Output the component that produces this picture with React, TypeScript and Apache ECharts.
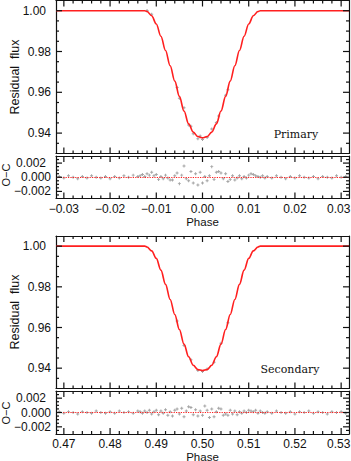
import React, { useEffect, useRef } from 'react';
import * as echarts from 'echarts';

// ---------- tick labels ----------
const PRI_X_TICKS = [-0.03, -0.02, -0.01, 0, 0.01, 0.02, 0.03];
const SEC_X_TICKS = [0.47, 0.48, 0.49, 0.5, 0.51, 0.52, 0.53];
const FLUX_TICKS = [0.94, 0.96, 0.98, 1.0];
const OC_TICKS = [-0.002, 0, 0.002];

// ---------- model light curves [phase, flux] ----------
const PRI_MODEL: [number, number][] = [
  [-0.0317, 1.0], [-0.013, 1.0], [-0.0125, 1.0], [-0.012, 0.9996], [-0.011, 0.9975],
  [-0.010, 0.9935], [-0.009, 0.9875], [-0.008, 0.9805], [-0.007, 0.9730], [-0.006, 0.9655],
  [-0.005, 0.9580], [-0.004, 0.9508], [-0.003, 0.9445], [-0.002, 0.9405], [-0.001, 0.9383],
  [0, 0.9377], [0.001, 0.9383], [0.002, 0.9405], [0.003, 0.9445], [0.004, 0.9508],
  [0.005, 0.9580], [0.006, 0.9655], [0.007, 0.9730], [0.008, 0.9805], [0.009, 0.9875],
  [0.010, 0.9935], [0.011, 0.9975], [0.012, 0.9996], [0.0125, 1.0], [0.013, 1.0], [0.0317, 1.0],
];
const SEC_MODEL: [number, number][] = [
  [0.4683, 1.0], [0.487, 1.0], [0.4875, 1.0], [0.488, 0.9996], [0.489, 0.9977],
  [0.490, 0.9940], [0.491, 0.9882], [0.492, 0.9812], [0.493, 0.9738], [0.494, 0.9664],
  [0.495, 0.9590], [0.496, 0.9518], [0.497, 0.9456], [0.498, 0.9414], [0.499, 0.9393],
  [0.500, 0.9388], [0.501, 0.9393], [0.502, 0.9414], [0.503, 0.9456], [0.504, 0.9518],
  [0.505, 0.9590], [0.506, 0.9664], [0.507, 0.9738], [0.508, 0.9812], [0.509, 0.9882],
  [0.510, 0.9940], [0.511, 0.9977], [0.512, 0.9996], [0.5125, 1.0], [0.513, 1.0], [0.5317, 1.0],
];

// ---------- observed points visible off the model ----------
const PRI_OBS: [number, number][] = [
  [-0.012, 1.0001], [-0.011, 0.9982], [-0.0055, 0.9624], [-0.005, 0.9571], [-0.004, 0.9524],
  [-0.003, 0.9440], [-0.0025, 0.9433], [-0.002, 0.9397], [-0.001, 0.9372], [-0.0005, 0.9386],
  [0, 0.9369], [0.001, 0.9378], [0.002, 0.9420], [0.003, 0.9452], [0.0035, 0.9484],
  [0.005, 0.9585], [0.0055, 0.9612],
];
const SEC_OBS: [number, number][] = [
  [0.4945, 0.9632], [0.496, 0.9512], [0.4975, 0.9442], [0.499, 0.9388], [0.5, 0.9384],
  [0.501, 0.9396], [0.5025, 0.9429], [0.504, 0.9523], [0.5055, 0.9623],
];

// ---------- O-C residuals [phase, residual] ----------
const PRI_OC: [number, number][] = [
  [-0.031, 0.0001], [-0.030, -0.0001], [-0.029, 0.0002], [-0.028, 0.0], [-0.027, -0.0002],
  [-0.026, 0.0001], [-0.025, -0.0001], [-0.024, 0.0002], [-0.023, 0.0], [-0.022, -0.0001],
  [-0.021, 0.0001], [-0.020, -0.0002], [-0.019, 0.0001], [-0.018, -0.0001], [-0.017, 0.0002],
  [-0.016, 0.0], [-0.015, 0.0003], [-0.014, 0.0001],
  [-0.0135, 0.0002], [-0.013, 0.0004], [-0.0125, 0.0001], [-0.012, 0.0005], [-0.0115, 0.0003],
  [-0.011, 0.0007], [-0.0105, 0.0002], [-0.010, 0.0004], [-0.0095, -0.0003], [-0.009, 0.0001],
  [-0.0085, -0.0002], [-0.008, 0.0003], [-0.0075, -0.0001], [-0.007, -0.0004], [-0.0065, -0.0004],
  [-0.006, 0.0002], [-0.0055, 0.0006], [-0.005, -0.0009], [-0.0045, 0.0003], [-0.004, 0.0016],
  [-0.0035, -0.0002], [-0.003, -0.0005], [-0.0025, 0.0008], [-0.002, -0.0008], [-0.0015, 0.0005],
  [-0.001, -0.0011], [-0.0005, 0.0007], [0, -0.0008], [0.0005, 0.0001], [0.001, -0.0005],
  [0.0015, 0.0002], [0.002, 0.0015], [0.0025, -0.0003], [0.003, 0.0007], [0.0035, 0.0008],
  [0.004, 0.0006], [0.0045, -0.0002], [0.005, 0.0005], [0.0055, -0.0006], [0.006, -0.0003],
  [0.0065, 0.0002], [0.007, -0.0004], [0.0075, -0.0001], [0.008, 0.0002], [0.0085, -0.0002],
  [0.009, 0.0001], [0.0095, -0.0001], [0.010, 0.0003], [0.0105, 0.0005], [0.011, 0.0004],
  [0.0115, 0.0002], [0.012, 0.0001], [0.0125, 0.0], [0.013, 0.0002], [0.0135, -0.0001],
  [0.014, 0.0001], [0.015, -0.0001], [0.016, 0.0002], [0.017, 0.0], [0.018, -0.0002],
  [0.019, 0.0001], [0.020, -0.0001], [0.021, 0.0002], [0.022, 0.0], [0.023, -0.0001],
  [0.024, 0.0001], [0.025, -0.0002], [0.026, 0.0001], [0.027, 0.0], [0.028, -0.0001],
  [0.029, 0.0002], [0.030, 0.0], [0.031, 0.0001],
];
const SEC_OC: [number, number][] = [
  [0.469, 0.0001], [0.470, -0.0001], [0.471, 0.0001], [0.472, 0.0], [0.473, -0.0002],
  [0.474, 0.0001], [0.475, 0.0], [0.476, -0.0001], [0.477, 0.0002], [0.478, 0.0],
  [0.479, -0.0001], [0.480, 0.0001], [0.481, -0.0001], [0.482, 0.0002], [0.483, 0.0],
  [0.484, 0.0001], [0.485, -0.0001], [0.486, 0.0002],
  [0.4865, 0.0001], [0.487, -0.0001], [0.4875, 0.0002], [0.488, 0.0], [0.4885, 0.0003],
  [0.489, -0.0002], [0.4895, 0.0001], [0.490, 0.0003], [0.4905, -0.0003], [0.491, 0.0002],
  [0.4915, -0.0001], [0.492, 0.0004], [0.4925, -0.0004], [0.493, 0.0001], [0.4935, -0.0005],
  [0.494, 0.0003], [0.4945, 0.0005], [0.495, -0.0002], [0.4955, 0.0006], [0.496, -0.0006],
  [0.4965, 0.0002], [0.497, 0.0008], [0.4975, 0.0007], [0.498, -0.0003], [0.4985, 0.0004],
  [0.499, -0.0005], [0.4995, 0.0002], [0.500, -0.0004], [0.5005, 0.0009], [0.501, 0.0003],
  [0.5015, -0.0007], [0.502, 0.0005], [0.5025, -0.0006], [0.503, 0.0001], [0.5035, 0.0006],
  [0.504, 0.0005], [0.5045, -0.0004], [0.505, -0.0002], [0.5055, -0.0004], [0.506, 0.0003],
  [0.5065, -0.0002], [0.507, 0.0002], [0.5075, -0.0003], [0.508, 0.0001], [0.5085, -0.0001],
  [0.509, 0.0002], [0.5095, 0.0], [0.510, 0.0003], [0.5105, 0.0002], [0.511, 0.0001],
  [0.5115, 0.0003], [0.512, -0.0001], [0.5125, 0.0002], [0.513, 0.0], [0.5135, -0.0001],
  [0.514, 0.0001], [0.515, -0.0001], [0.516, 0.0002], [0.517, 0.0], [0.518, -0.0001],
  [0.519, 0.0001], [0.520, -0.0002], [0.521, 0.0001], [0.522, 0.0], [0.523, 0.0002],
  [0.524, -0.0001], [0.525, 0.0001], [0.526, 0.0], [0.527, -0.0002], [0.528, 0.0001],
  [0.529, 0.0], [0.530, 0.0001], [0.531, -0.0001],
];

const PRI_RANGE: [number, number] = [-0.0317, 0.0317];
const SEC_RANGE: [number, number] = [0.4683, 0.5317];
const FLUX_RANGE: [number, number] = [0.93, 1.005];
const OC_RANGE: [number, number] = [-0.003, 0.003];

const AX = '#111';
const SANS = '"Liberation Sans", Arial, sans-serif';
const SERIF = '"DejaVu Serif", serif';
const RED = '#ff1f1f';
const GRAY = '#8e8e8e';
const PLUS = 'path://M1,0H2V1H3V2H2V3H1V2H0V1H1Z';

function steps(min: number, max: number, step: number, exclude: number[]): number[] {
  const out: number[] = [];
  const n0 = Math.ceil(min / step - 1e-9);
  const n1 = Math.floor(max / step + 1e-9);
  for (let n = n0; n <= n1; n++) {
    const v = Math.round(n * step * 1e6) / 1e6;
    if (v <= min + 1e-9 || v >= max - 1e-9) continue;
    if (exclude.some((e) => Math.abs(e - v) < 1e-9)) continue;
    out.push(v);
  }
  return out;
}

const fmtFor = (d: number, last: number) => (v: number) => {
  const s = (v < -1e-12 ? '\u2212' : '') + Math.abs(v).toFixed(d);
  return Math.abs(v - last) < 1e-9 ? '{e|' + s + '}' : s;
};

function axes(dim: 'x' | 'y', gi: number, range: [number, number], majors: number[], labelDigits: number | null) {
  const pos = dim === 'x' ? ['bottom', 'top'] : ['left', 'right'];
  return pos.map((p, k) => ({
    type: 'value', gridIndex: gi, min: range[0], max: range[1], position: p,
    splitLine: { show: false },
    axisLine: { show: true, onZero: false, lineStyle: { color: AX, width: 1.2 } },
    axisTick: { show: false },
    axisLabel: k === 0 && labelDigits !== null ? {
      show: true, customValues: majors, formatter: fmtFor(labelDigits, majors[majors.length - 1]),
      margin: dim === 'x' ? 4 : 5, fontSize: 12, fontFamily: SANS, color: '#111',
      rich: { e: { fontSize: 12, fontFamily: SANS, color: '#111', padding: [0, 5, 0, 0] } },
    } : { show: false },
  }));
}

type Panel = { gi: number; xr: [number, number]; xMaj: number[]; xStep: number; yr: [number, number]; yMaj: number[]; yStep: number };
const PANELS: Panel[] = [
  { gi: 0, xr: PRI_RANGE, xMaj: PRI_X_TICKS, xStep: 0.002, yr: FLUX_RANGE, yMaj: FLUX_TICKS, yStep: 0.005 },
  { gi: 1, xr: PRI_RANGE, xMaj: PRI_X_TICKS, xStep: 0.002, yr: OC_RANGE, yMaj: OC_TICKS, yStep: 0.0005 },
  { gi: 2, xr: SEC_RANGE, xMaj: SEC_X_TICKS, xStep: 0.002, yr: FLUX_RANGE, yMaj: FLUX_TICKS, yStep: 0.005 },
  { gi: 3, xr: SEC_RANGE, xMaj: SEC_X_TICKS, xStep: 0.002, yr: OC_RANGE, yMaj: OC_TICKS, yStep: 0.0005 },
];

export default function App() {
  const ref = useRef<HTMLDivElement>(null);
  useEffect(() => {
    if (!ref.current) return;
    const chart = echarts.init(ref.current, undefined, { renderer: 'svg' });
    const W = 293;
    const grids = [
      { left: 56, top: 0.5, width: W, height: 153 },
      { left: 56, top: 156, width: W, height: 42.5 },
      { left: 56, top: 236, width: W, height: 152.5 },
      { left: 56, top: 391, width: W, height: 43 },
    ].map((g) => ({ ...g, containLabel: false, outerBoundsMode: 'none' }));

    const xAxis = [
      ...axes('x', 0, PRI_RANGE, PRI_X_TICKS, null),
      ...axes('x', 1, PRI_RANGE, PRI_X_TICKS, 2),
      ...axes('x', 2, SEC_RANGE, SEC_X_TICKS, null),
      ...axes('x', 3, SEC_RANGE, SEC_X_TICKS, 2),
    ];
    const yAxis = [
      ...axes('y', 0, FLUX_RANGE, FLUX_TICKS, 2),
      ...axes('y', 1, OC_RANGE, OC_TICKS, 3),
      ...axes('y', 2, FLUX_RANGE, FLUX_TICKS, 2),
      ...axes('y', 3, OC_RANGE, OC_TICKS, 3),
    ];

    const obsSeries = (gi: number, data: [number, number][]) => ({
      type: 'scatter', xAxisIndex: gi * 2, yAxisIndex: gi * 2, data,
      symbol: PLUS, symbolSize: 3, itemStyle: { color: GRAY }, z: 1, silent: true,
    });
    const modelSeries = (gi: number, data: [number, number][]) => ({
      type: 'line', xAxisIndex: gi * 2, yAxisIndex: gi * 2, data,
      showSymbol: false, smooth: 0.35, smoothMonotone: 'x',
      lineStyle: { color: RED, width: 1.6 }, z: 2, silent: true,
    });
    const ocSeries = (gi: number, data: [number, number][]) => ({
      ...obsSeries(gi, data),
      markLine: {
        silent: true, symbol: 'none', label: { show: false },
        lineStyle: { color: RED, type: 'dotted', width: 1.2 },
        data: [{ yAxis: 0 }],
      },
    });

    const txt = (text: string, x: number, y: number, size: number, family: string, rot = 0) => ({
      type: 'text', x, y, rotation: rot,
      style: { text, fontSize: size, fontFamily: family, fill: '#111', align: 'center', verticalAlign: 'middle' },
    });

    chart.setOption({
      animation: false,
      backgroundColor: '#fff',
      grid: grids,
      xAxis, yAxis,
      series: [
        obsSeries(0, PRI_OBS), modelSeries(0, PRI_MODEL), ocSeries(1, PRI_OC),
        obsSeries(2, SEC_OBS), modelSeries(2, SEC_MODEL), ocSeries(3, SEC_OC),
      ],
    });

    // ticks on all four sides, placed with the chart's own scales
    const ticks: any[] = [];
    const st = { stroke: AX, lineWidth: 1.2 };
    PANELS.forEach((p) => {
      const finder = { gridIndex: p.gi };
      const bl = chart.convertToPixel(finder, [p.xr[0], p.yr[0]]) as number[];
      const tr = chart.convertToPixel(finder, [p.xr[1], p.yr[1]]) as number[];
      const yb = bl[1], yt = tr[1], xl = bl[0], xrr = tr[0];
      const addX = (v: number, len: number) => {
        const px = (chart.convertToPixel(finder, [v, p.yr[0]]) as number[])[0];
        ticks.push({ type: 'line', silent: true, z: 100, shape: { x1: px, y1: yb, x2: px, y2: yb - len }, style: st });
        ticks.push({ type: 'line', silent: true, z: 100, shape: { x1: px, y1: yt, x2: px, y2: yt + len }, style: st });
      };
      const addY = (v: number, len: number) => {
        const py = (chart.convertToPixel(finder, [p.xr[0], v]) as number[])[1];
        ticks.push({ type: 'line', silent: true, z: 100, shape: { x1: xl, y1: py, x2: xl + len, y2: py }, style: st });
        ticks.push({ type: 'line', silent: true, z: 100, shape: { x1: xrr, y1: py, x2: xrr - len, y2: py }, style: st });
      };
      p.xMaj.forEach((v) => addX(v, 6));
      steps(p.xr[0], p.xr[1], p.xStep, p.xMaj).forEach((v) => addX(v, 3));
      p.yMaj.forEach((v) => addY(v, 6));
      steps(p.yr[0], p.yr[1], p.yStep, p.yMaj).forEach((v) => addY(v, 3));
    });

    chart.setOption({
      graphic: [
        ...ticks,
        txt('Residual  flux', 14.5, 77, 12.5, SANS, Math.PI / 2),
        txt('Residual  flux', 14.5, 312, 12.5, SANS, Math.PI / 2),
        txt('O\u2212C', 5.5, 175, 11, SANS, Math.PI / 2),
        txt('O\u2212C', 5.5, 413, 11, SANS, Math.PI / 2),
        txt('Primary', 296, 134.5, 11, SERIF),
        txt('Secondary', 290, 369.5, 11, SERIF),
        txt('Phase', 202.5, 221.5, 11.5, SANS),
        txt('Phase', 202.5, 456.5, 11.5, SANS),
      ],
    });
    return () => chart.dispose();
  }, []);
  return <div ref={ref} style={{ position: 'absolute', left: 0, top: 0, width: 351, height: 461 }} />;
}
